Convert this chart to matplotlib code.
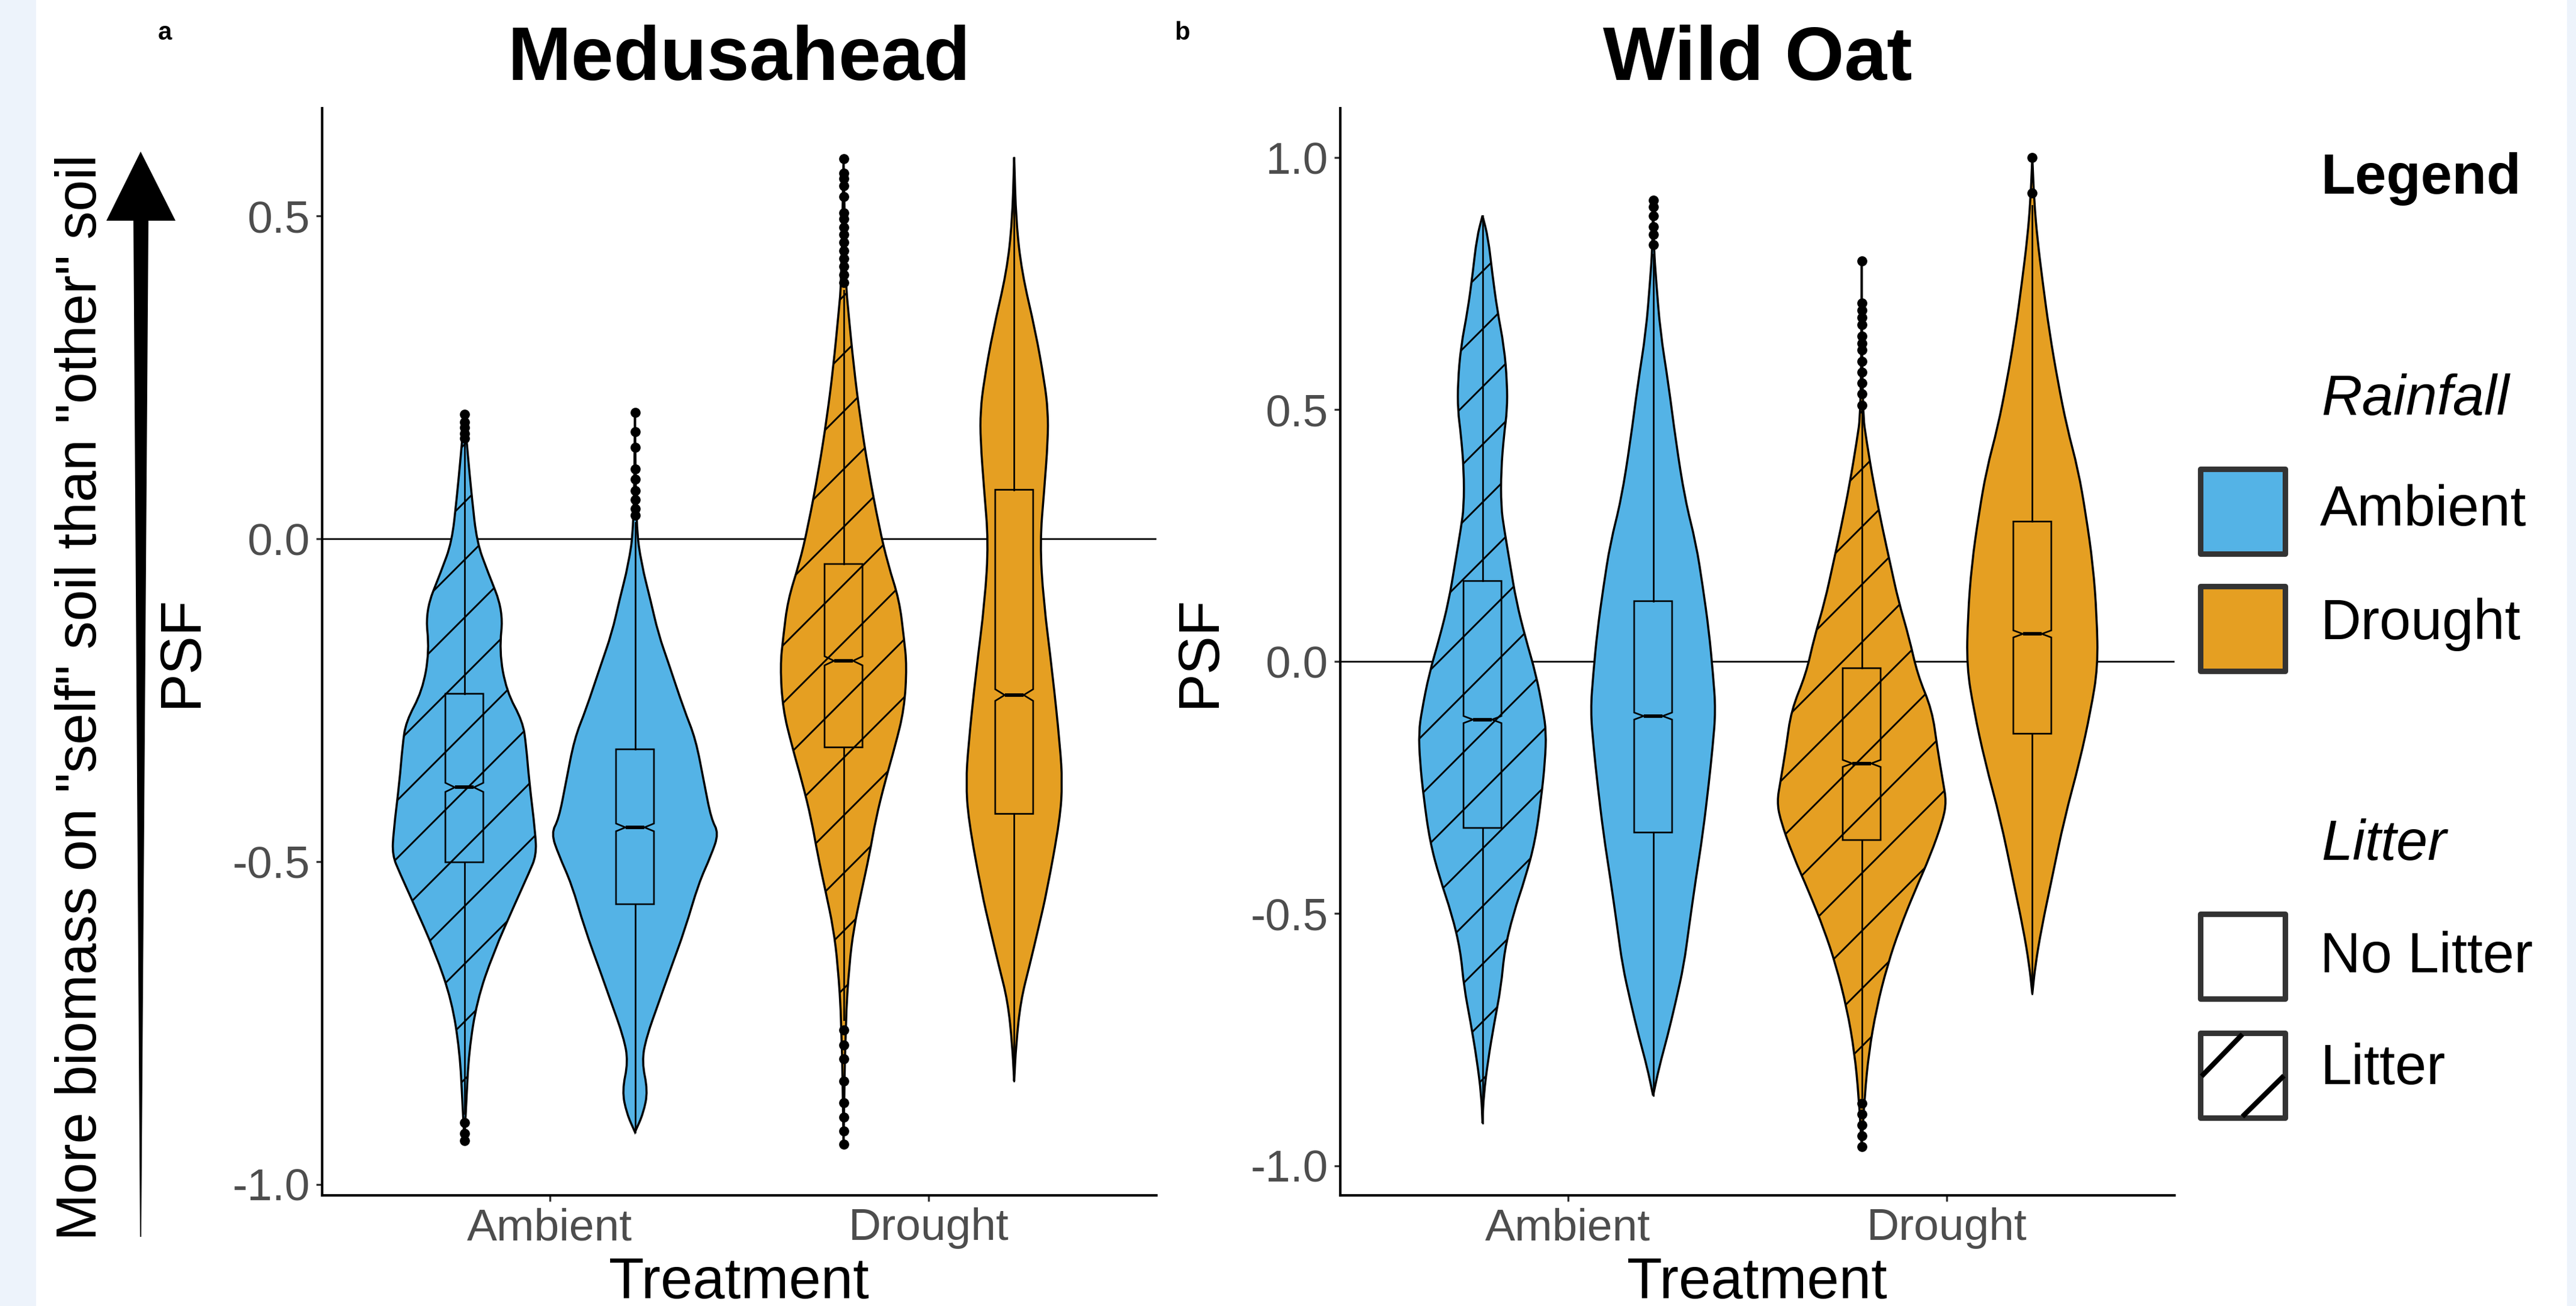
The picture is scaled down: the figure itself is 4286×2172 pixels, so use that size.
import numpy as np
import matplotlib
matplotlib.use("Agg")
import matplotlib.pyplot as plt
from matplotlib.path import Path
from matplotlib.patches import PathPatch, Rectangle, Polygon
from matplotlib.collections import LineCollection
from matplotlib.transforms import IdentityTransform

plt.rcParams['font.family'] = ['Liberation Sans', 'DejaVu Sans']

# ---------------- data ----------------
treatments = ["Ambient", "Drought"]
litter = ["Litter", "No Litter"]
rain_colors = {"Ambient": "#54B3E6", "Drought": "#E59F22"}

# violin outlines: PSF value and half width of the violin (x units)
# Medusahead
med_al_y = [0.193, 0.131, 0.063, -0.005, -0.050, -0.112, -0.174, -0.236, -0.283, -0.320,
            -0.376, -0.454, -0.490, -0.518, -0.562, -0.642, -0.716, -0.795, -0.874, -0.932]
med_al_w = [0.0, 0.009, 0.020, 0.033, 0.061, 0.103, 0.092, 0.111, 0.154, 0.163,
            0.171, 0.187, 0.190, 0.170, 0.136, 0.076, 0.033, 0.012, 0.005, 0.0]
med_an_y = [0.196, 0.018, -0.039, -0.095, -0.146, -0.197, -0.264, -0.310, -0.377, -0.434,
            -0.456, -0.490, -0.535, -0.603, -0.671, -0.716, -0.772, -0.810, -0.855, -0.890, -0.919]
med_an_w = [0.0, 0.003, 0.017, 0.041, 0.061, 0.091, 0.129, 0.160, 0.182, 0.201,
            0.221, 0.201, 0.167, 0.133, 0.091, 0.064, 0.030, 0.018, 0.034, 0.022, 0.0]
med_dl_y = [0.591, 0.396, 0.356, 0.266, 0.187, 0.108, 0.018, -0.039, -0.095, -0.152, -0.197,
            -0.264, -0.321, -0.377, -0.434, -0.490, -0.547, -0.603, -0.660, -0.750, -0.938]
med_dl_w = [0.0, 0.006, 0.012, 0.027, 0.044, 0.065, 0.094, 0.117, 0.147, 0.159, 0.167,
            0.160, 0.136, 0.109, 0.085, 0.068, 0.047, 0.027, 0.015, 0.005, 0.0]
med_dn_y = [0.591, 0.492, 0.413, 0.322, 0.243, 0.198, 0.153, 0.074, -0.005, -0.095,
            -0.208, -0.321, -0.377, -0.434, -0.547, -0.603, -0.660, -0.716, -0.784, -0.840]
med_dn_w = [0.0, 0.005, 0.020, 0.056, 0.080, 0.089, 0.089, 0.079, 0.068, 0.077,
            0.101, 0.121, 0.127, 0.121, 0.086, 0.064, 0.041, 0.017, 0.005, 0.0]

# Wild Oat
wo_al_y = [0.885, 0.841, 0.769, 0.697, 0.625, 0.553, 0.499, 0.452, 0.380, 0.307, 0.264, 0.192,
           0.120, 0.048, -0.025, -0.097, -0.140, -0.198, -0.270, -0.356, -0.429, -0.501,
           -0.573, -0.645, -0.717, -0.789, -0.861, -0.916]
wo_al_w = [0.0, 0.015, 0.026, 0.039, 0.057, 0.065, 0.065, 0.057, 0.049, 0.049, 0.057, 0.073,
           0.089, 0.113, 0.141, 0.160, 0.168, 0.165, 0.155, 0.139, 0.113, 0.081,
           0.058, 0.049, 0.031, 0.015, 0.003, 0.0]
wo_an_y = [0.916, 0.820, 0.755, 0.654, 0.553, 0.437, 0.322, 0.235, 0.149, 0.062, -0.025,
           -0.097, -0.169, -0.241, -0.342, -0.429, -0.530, -0.602, -0.674, -0.746, -0.804, -0.861]
wo_an_w = [0.0, 0.002, 0.008, 0.019, 0.040, 0.060, 0.084, 0.113, 0.131, 0.147, 0.158,
           0.165, 0.157, 0.147, 0.131, 0.113, 0.094, 0.081, 0.060, 0.037, 0.016, 0.0]
wo_dl_y = [0.795, 0.495, 0.437, 0.351, 0.264, 0.192, 0.120, 0.048, -0.025, -0.097, -0.169,
           -0.241, -0.277, -0.313, -0.385, -0.457, -0.530, -0.602, -0.688, -0.775, -0.861, -0.962]
wo_dl_w = [0.0, 0.002, 0.013, 0.032, 0.055, 0.076, 0.097, 0.125, 0.147, 0.186, 0.199,
           0.215, 0.223, 0.215, 0.181, 0.139, 0.100, 0.068, 0.039, 0.019, 0.008, 0.0]
wo_dn_y = [1.0, 0.913, 0.841, 0.755, 0.654, 0.553, 0.466, 0.380, 0.293, 0.192, 0.091,
           -0.010, -0.097, -0.198, -0.313, -0.429, -0.530, -0.602, -0.659]
wo_dn_w = [0.0, 0.005, 0.013, 0.027, 0.045, 0.068, 0.091, 0.121, 0.141, 0.160, 0.170,
           0.173, 0.154, 0.125, 0.084, 0.052, 0.024, 0.008, 0.0]

# box stats, order: Ambient/Litter, Ambient/No Litter, Drought/Litter, Drought/No Litter
med_q1 = [-0.501, -0.566, -0.323, -0.426]
med_median = [-0.385, -0.447, -0.189, -0.242]
med_q3 = [-0.240, -0.326, -0.039, 0.076]
med_whislo = [-0.890, -0.919, -0.745, -0.840]
med_whishi = [0.145, 0.025, 0.385, 0.591]
med_notch = [0.007, 0.006, 0.007, 0.009]
med_out_al = [0.193, 0.181, 0.172, 0.163, 0.156, -0.904, -0.921, -0.932]
med_out_an = [0.196, 0.166, 0.142, 0.108, 0.092, 0.075, 0.061, 0.047, 0.036]
med_out_dl = [0.589, 0.566, 0.558, 0.547, 0.530, 0.505, 0.496, 0.483, 0.471, 0.459, 0.446,
              0.434, 0.422, 0.409, 0.397, -0.761, -0.784, -0.806, -0.840, -0.874, -0.896,
              -0.917, -0.938]
med_out_dn = []

wo_q1 = [-0.330, -0.339, -0.354, -0.143]
wo_median = [-0.115, -0.108, -0.202, 0.055]
wo_q3 = [0.160, 0.120, -0.013, 0.278]
wo_whislo = [-0.916, -0.861, -0.865, -0.659]
wo_whishi = [0.885, 0.808, 0.495, 0.905]
wo_notch = [0.007, 0.007, 0.007, 0.007]
wo_out_al = []
wo_out_an = [0.916, 0.902, 0.885, 0.863, 0.848, 0.827]
wo_out_dl = [0.795, 0.711, 0.697, 0.683, 0.668, 0.646, 0.632, 0.618, 0.596, 0.574, 0.553,
             0.531, 0.509, -0.876, -0.898, -0.919, -0.941, -0.962]
wo_out_dn = [1.0, 0.93]

yticks = [-1.0, -0.5, 0.0, 0.5]
yticks_wo = [-1.0, -0.5, 0.0, 0.5, 1.0]

# ---------------- figure ----------------
W, H, DPI = 4286, 2172, 300
fig = plt.figure(figsize=(W / DPI, H / DPI), dpi=DPI)
fig.patch.set_facecolor("white")


def fx(x):
    return x / W


def fy(y):
    return 1 - y / H


def violin_path(pos, ys, hws):
    ys = np.asarray(ys, float)
    hws = np.asarray(hws, float)
    right = np.column_stack([pos + hws, ys])
    left = np.column_stack([pos - hws, ys])[::-1]
    pts = np.vstack([right, left])
    mids = (pts + np.roll(pts, -1, axis=0)) / 2
    verts = [mids[-1]]
    codes = [Path.MOVETO]
    for i in range(len(pts)):
        verts += [pts[i], mids[i]]
        codes += [Path.CURVE3, Path.CURVE3]
    verts.append(mids[-1])
    codes.append(Path.CLOSEPOLY)
    return Path(verts, codes)


def add_hatch(ax, patch, step=96):
    x0, y0, x1, y1 = ax.bbox.extents
    cs = np.arange(y0 - x1, y1 - x0 + step, step)
    segs = [[(x0, x0 + c), (x1, x1 + c)] for c in cs]
    lc = LineCollection(segs, colors="black", linewidths=0.7,
                        transform=IdentityTransform(), zorder=2.5)
    ax.add_collection(lc, autolim=False)
    lc.set_clip_path(patch)


def draw_panel(ax, profiles, q1, med, q3, lo, hi, notch, outs, ylim, ticks):
    dodge = {"Litter": -0.225, "No Litter": 0.225}
    stats, positions = [], []
    k = 0
    for i, trt in enumerate(treatments):
        for lit in litter:
            pos = i + 1 + dodge[lit]
            ys, ws = profiles[k]
            patch = PathPatch(violin_path(pos, ys, ws), facecolor=rain_colors[trt],
                              edgecolor="black", lw=0.85, zorder=2)
            ax.add_patch(patch)
            if lit == "Litter":
                add_hatch(ax, patch)
            stats.append(dict(med=med[k], q1=q1[k], q3=q3[k], whislo=lo[k], whishi=hi[k],
                              fliers=np.array(outs[k]), cilo=med[k] - notch[k],
                              cihi=med[k] + notch[k]))
            positions.append(pos)
            k += 1
    ax.bxp(stats, positions=positions, widths=0.1, shownotches=True, showcaps=False,
           patch_artist=True, manage_ticks=False, zorder=3,
           boxprops=dict(facecolor="none", edgecolor="black", lw=0.65),
           medianprops=dict(color="black", lw=1.4),
           whiskerprops=dict(color="black", lw=0.65),
           flierprops=dict(marker="o", markerfacecolor="black", markeredgecolor="black",
                           markersize=3, linestyle="none"))
    ax.axhline(0, color="black", lw=0.65, zorder=1)
    ax.set_xlim(0.4, 2.6)
    ax.set_ylim(*ylim)
    ax.set_xticks([1, 2], treatments)
    ax.set_yticks(ticks, [f"{t:.1f}" for t in ticks])
    for s in ["top", "right"]:
        ax.spines[s].set_visible(False)
    for s in ["left", "bottom"]:
        ax.spines[s].set_linewidth(1.0)
        ax.spines[s].set_color("black")
    ax.tick_params(axis="both", length=2.4, width=0.8, color="#333333",
                   labelsize=18, labelcolor="#4D4D4D", pad=2.5)


ax1 = fig.add_axes([fx(536), fy(1988), fx(1924) - fx(536), fy(180) - fy(1988)])
ax2 = fig.add_axes([fx(2230), fy(1988), fx(3618) - fx(2230), fy(180) - fy(1988)])

draw_panel(ax1,
           [(med_al_y, med_al_w), (med_an_y, med_an_w), (med_dl_y, med_dl_w), (med_dn_y, med_dn_w)],
           med_q1, med_median, med_q3, med_whislo, med_whishi, med_notch,
           [med_out_al, med_out_an, med_out_dl, med_out_dn], (-1.017, 0.667), yticks)
draw_panel(ax2,
           [(wo_al_y, wo_al_w), (wo_an_y, wo_an_w), (wo_dl_y, wo_dl_w), (wo_dn_y, wo_dn_w)],
           wo_q1, wo_median, wo_q3, wo_whislo, wo_whishi, wo_notch,
           [wo_out_al, wo_out_an, wo_out_dl, wo_out_dn], (-1.059, 1.098), yticks_wo)

# titles and axis titles
fig.text(fx(1230), fy(133), "Medusahead", ha="center", va="baseline",
         fontsize=30.5, fontweight="bold")
fig.text(fx(2924), fy(133), "Wild Oat", ha="center", va="baseline",
         fontsize=30.5, fontweight="bold")
fig.text(fx(274), fy(55), "a", ha="center", va="center", fontsize=10, fontweight="bold")
fig.text(fx(1967), fy(55), "b", ha="center", va="center", fontsize=10, fontweight="bold")
for cx in (1230, 2924):
    fig.text(fx(cx), fy(2159), "Treatment", ha="center", va="baseline", fontsize=23)
for cx in (302, 1996):
    fig.text(fx(cx), fy(1084), "PSF", ha="center", va="center", rotation=90, fontsize=23)

# side strips
fig.patches.append(Rectangle((0, 0), fx(60), 1, transform=fig.transFigure,
                             facecolor="#EDF3FB", edgecolor="none", zorder=-1))
fig.patches.append(Rectangle((fx(4271), 0), 1 - fx(4271), 1, transform=fig.transFigure,
                             facecolor="#EDF3FB", edgecolor="none", zorder=-1))

# arrow with caption
arrow_pts = [(234, 252), (292, 367), (247, 367), (235, 2057), (233, 2057), (222, 367), (177, 367)]
fig.patches.append(Polygon([(fx(x), fy(y)) for x, y in arrow_pts], closed=True,
                           transform=fig.transFigure, facecolor="black", edgecolor="none"))
fig.text(fx(136), fy(1160), 'More biomass on "self" soil than "other" soil', rotation=90,
         ha="center", va="center", fontsize=22.5)

# legend
fig.text(fx(3862), fy(322), "Legend", ha="left", va="baseline", fontsize=22.5, fontweight="bold")
fig.text(fx(3862), fy(690), "Rainfall", ha="left", va="baseline", fontsize=22.5, style="italic")
fig.text(fx(3862), fy(1430), "Litter", ha="left", va="baseline", fontsize=22.5, style="italic")
key_rows = [("Ambient", rain_colors["Ambient"], 780, 874),
            ("Drought", rain_colors["Drought"], 975, 1063),
            ("No Litter", "white", 1520, 1617),
            ("Litter", "white", 1718, 1803)]
for label, fc, ytop, base in key_rows:
    fig.patches.append(Rectangle((fx(3661), fy(ytop + 141)), fx(141), 141 / H,
                                 transform=fig.transFigure, facecolor=fc,
                                 edgecolor="#333333", lw=2.2, joinstyle="round"))
    fig.text(fx(3860), fy(base), label, ha="left", va="baseline", fontsize=22.5)
for (xa, ya), (xb, yb) in [((3663, 1790), (3731, 1720)), ((3731, 1857), (3800, 1789))]:
    fig.add_artist(plt.Line2D([fx(xa), fx(xb)], [fy(ya), fy(yb)], transform=fig.transFigure,
                              color="black", lw=2.0, solid_capstyle="butt"))

fig.savefig("out.png", dpi=DPI)
